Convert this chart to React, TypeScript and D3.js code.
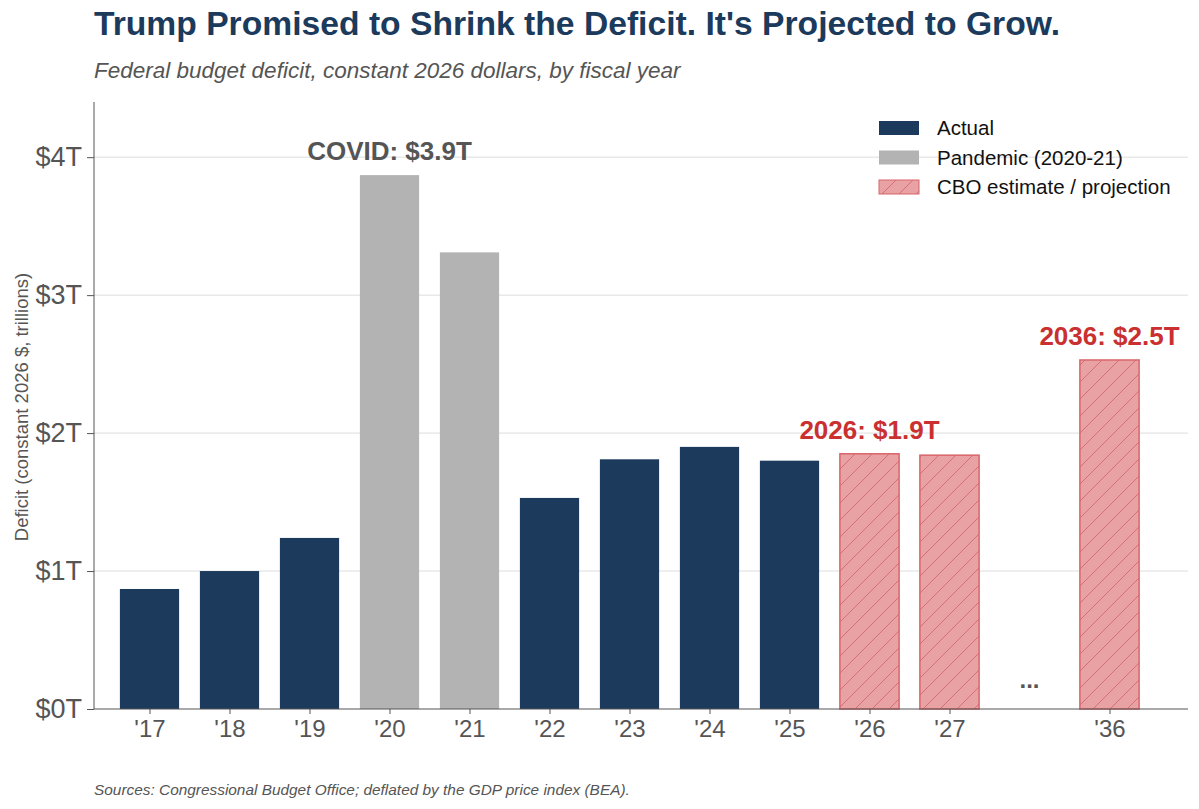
import React, { useEffect, useRef } from "react";
import * as d3 from "d3";

// fiscal years on the x axis ("…" marks the skipped years before 2036)
const years = ["'17", "'18", "'19", "'20", "'21", "'22", "'23", "'24", "'25", "'26", "'27", "…", "'36"];
// deficit, trillions of constant 2026 dollars
const deficits = [0.87, 1.0, 1.24, 3.87, 3.31, 1.53, 1.81, 1.9, 1.8, 1.85, 1.84, null, 2.53];
// actual | pandemic | cbo
const kinds = ["actual", "actual", "actual", "pandemic", "pandemic", "actual", "actual", "actual", "actual", "cbo", "cbo", null, "cbo"];
const yTicks = [0, 1, 2, 3, 4];

const legendItems = [
  { kind: "actual", label: "Actual" },
  { kind: "pandemic", label: "Pandemic (2020-21)" },
  { kind: "cbo", label: "CBO estimate / projection" },
];

const callouts = [
  { year: "'20", value: 3.87, text: "COVID: $3.9T", color: "#555555" },
  { year: "'26", value: 1.85, text: "2026: $1.9T", color: "#c9302f" },
  { year: "'36", value: 2.53, text: "2036: $2.5T", color: "#c9302f" },
];

const NAVY = "#1b3a5c";
const GRAY = "#b3b3b3";
const PINK = "#e8a2a4";
const RED_EDGE = "#d9656b";

const W = 1199;
const H = 809;
const margin = { top: 102, right: 11, bottom: 100, left: 94 };

export default function App() {
  const ref = useRef<SVGSVGElement>(null);

  useEffect(() => {
    const svg = d3.select(ref.current);
    svg.selectAll("*").remove();
    const font = "'Liberation Sans', Arial, sans-serif";

    const x = d3.scalePoint<string>().domain(years).range([149.5, 1109.5]);
    const y = d3.scaleLinear().domain([0, 4.4]).range([H - margin.bottom, margin.top]);
    const barW = x.step() * 0.74;

    const defs = svg.append("defs");
    const pat = defs.append("pattern")
      .attr("id", "hatch")
      .attr("patternUnits", "userSpaceOnUse")
      .attr("width", 17)
      .attr("height", 17);
    pat.append("rect").attr("width", 17).attr("height", 17).attr("fill", PINK);
    pat.append("path")
      .attr("d", "M0,17 L17,0 M-4,4 L4,-4 M13,21 L21,13")
      .attr("stroke", "#cf5a64")
      .attr("stroke-width", 1)
      .attr("stroke-opacity", 0.75);

    const fillFor = (k: string | null) => (k === "actual" ? NAVY : k === "pandemic" ? GRAY : "url(#hatch)");

    // titles
    svg.append("text")
      .attr("x", 94).attr("y", 35)
      .attr("font-family", "'Liberation Sans Narrow', 'Liberation Sans', Arial, sans-serif")
      .attr("font-weight", "bold")
      .attr("font-size", 33)
      .attr("fill", NAVY)
      .attr("textLength", 966)
      .attr("lengthAdjust", "spacingAndGlyphs")
      .text("Trump Promised to Shrink the Deficit. It's Projected to Grow.");

    svg.append("text")
      .attr("x", 94).attr("y", 78)
      .attr("font-family", font)
      .attr("font-style", "italic")
      .attr("font-size", 22.5)
      .attr("fill", "#555555")
      .text("Federal budget deficit, constant 2026 dollars, by fiscal year");

    // grid
    svg.append("g")
      .selectAll("line")
      .data(yTicks.filter(t => t > 0))
      .join("line")
      .attr("x1", margin.left).attr("x2", W - margin.right)
      .attr("y1", d => y(d)).attr("y2", d => y(d))
      .attr("stroke", "#dddddd").attr("stroke-width", 1);

    // bars
    const rows = years.map((yr, i) => ({ yr, v: deficits[i], k: kinds[i] })).filter(d => d.v != null);
    svg.append("g")
      .selectAll("rect")
      .data(rows)
      .join("rect")
      .attr("x", d => (x(d.yr) as number) - barW / 2)
      .attr("width", barW)
      .attr("y", d => y(d.v as number))
      .attr("height", d => y(0) - y(d.v as number))
      .attr("fill", d => fillFor(d.k))
      .attr("stroke", d => (d.k === "cbo" ? RED_EDGE : "none"))
      .attr("stroke-width", 1.5);

    // ellipsis for the skipped years
    svg.append("text")
      .attr("x", x("…") as number).attr("y", 688)
      .attr("text-anchor", "middle")
      .attr("font-family", font).attr("font-weight", "bold")
      .attr("font-size", 24).attr("fill", "#555555")
      .text("...");

    // y axis
    const yAxis = svg.append("g")
      .attr("transform", `translate(${margin.left},0)`)
      .call(d3.axisLeft(y).tickValues(yTicks).tickSize(7).tickPadding(5).tickFormat(d => `$${d}T`));
    yAxis.select(".domain").attr("stroke", "#555555").attr("d", `M0,${margin.top}V${y(0)}`);
    yAxis.selectAll(".tick line").attr("stroke", "#555555");
    yAxis.selectAll(".tick text")
      .attr("font-family", font).attr("font-size", 27).attr("fill", "#555555");

    // x axis
    const xAxis = svg.append("g")
      .attr("transform", `translate(0,${y(0)})`)
      .call(d3.axisBottom(x).tickSize(5).tickPadding(6));
    xAxis.select(".domain").attr("stroke", "#555555").attr("d", `M${margin.left},0H${W - margin.right}`);
    xAxis.selectAll(".tick line").attr("stroke", "#555555");
    xAxis.selectAll(".tick").filter(d => d === "…").remove();
    xAxis.selectAll(".tick text")
      .attr("font-family", font).attr("font-size", 24).attr("fill", "#555555");

    svg.append("text")
      .attr("transform", `translate(28,${407}) rotate(-90)`)
      .attr("text-anchor", "middle")
      .attr("font-family", font).attr("font-size", 18.5).attr("fill", "#555555")
      .text("Deficit (constant 2026 $, trillions)");

    // callouts
    svg.append("g")
      .selectAll("text")
      .data(callouts)
      .join("text")
      .attr("x", d => x(d.year) as number)
      .attr("y", d => y(d.value) - 15)
      .attr("text-anchor", "middle")
      .attr("font-family", font).attr("font-weight", "bold")
      .attr("font-size", 26)
      .attr("fill", d => d.color)
      .text(d => d.text);

    // legend
    const lg = svg.append("g").attr("transform", "translate(879,121)");
    const item = lg.selectAll("g").data(legendItems).join("g")
      .attr("transform", (_, i) => `translate(0,${i * 29.5})`);
    item.append("rect")
      .attr("width", 40).attr("height", 14)
      .attr("fill", d => fillFor(d.kind))
      .attr("stroke", d => (d.kind === "cbo" ? RED_EDGE : "none"))
      .attr("stroke-width", 1);
    item.append("text")
      .attr("x", 58).attr("y", 7).attr("dy", "0.35em")
      .attr("font-family", font).attr("font-size", 20.5).attr("fill", "#111111")
      .text(d => d.label);

    svg.append("text")
      .attr("x", 94).attr("y", 795)
      .attr("font-family", font).attr("font-style", "italic")
      .attr("font-size", 15.4).attr("fill", "#555555")
      .text("Sources: Congressional Budget Office; deflated by the GDP price index (BEA).");
  }, []);

  return (
    <svg
      ref={ref}
      width={W}
      height={H}
      style={{ position: "absolute", left: 0, top: 0, background: "#ffffff" }}
    />
  );
}
